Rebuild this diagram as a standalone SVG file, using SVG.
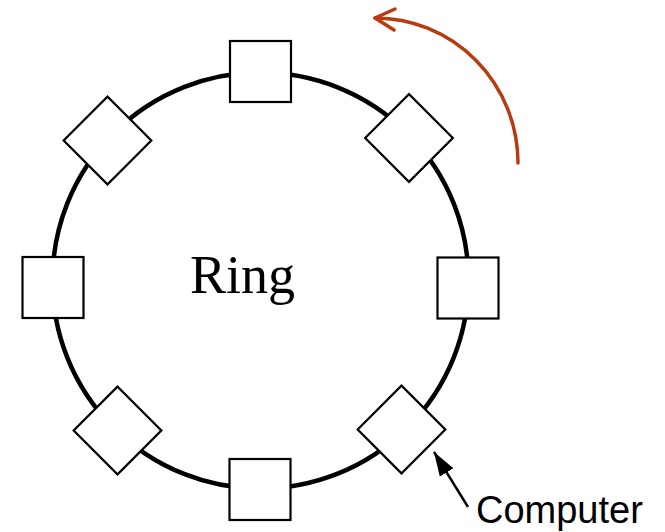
<svg xmlns="http://www.w3.org/2000/svg" width="665" height="532" viewBox="0 0 665 532">
  <style>
    .node { fill: #ffffff; stroke: #000000; stroke-width: 2.2; }
    .ring { fill: none; stroke: #000000; stroke-width: 4.5; }
    .red { fill: none; stroke: #B83A0E; stroke-width: 3.5; stroke-linecap: round; stroke-linejoin: round; }
    .lbl { font-family: "Liberation Sans", Arial, sans-serif; fill: #000; }
    .ringlbl { font-family: "Liberation Serif", "Times New Roman", serif; fill: #000; }
  </style>
  <defs>
    <marker id="blackArrow" markerUnits="userSpaceOnUse" markerWidth="26" markerHeight="18" refX="24" refY="8" orient="auto">
      <path d="M0,0 L24,8 L0,16 Z" fill="#000"/>
    </marker>
  </defs>
  <rect width="665" height="532" fill="#ffffff"/>
  <g id="ring">
    <circle class="ring" cx="260.5" cy="280.5" r="208"/>
    <text class="ringlbl" x="190" y="293" font-size="54">Ring</text>
  </g>
  <g id="connectors">
    <path class="red" d="M518,163 A143,145 0 0 0 375,18"/>
    <polyline class="red" points="395,9 375,18 394,30"/>
    <line x1="468" y1="507" x2="434" y2="452" stroke="#000" stroke-width="2.4" marker-end="url(#blackArrow)"/>
  </g>
  <g id="node-top"><rect class="node" x="230" y="41" width="61" height="61"/></g>
  <g id="node-top-right"><rect class="node" x="-31" y="-31" width="62" height="62" transform="translate(409,138) rotate(45)"/></g>
  <g id="node-right"><rect class="node" x="437.5" y="257.5" width="61" height="61"/></g>
  <g id="node-bottom-right"><rect class="node" x="-31" y="-31" width="62" height="62" transform="translate(401.5,429.5) rotate(45)"/></g>
  <g id="node-bottom"><rect class="node" x="229.5" y="459" width="61" height="61"/></g>
  <g id="node-bottom-left"><rect class="node" x="-31" y="-31" width="62" height="62" transform="translate(117.5,430.5) rotate(45)"/></g>
  <g id="node-left"><rect class="node" x="22.5" y="257" width="61" height="61"/></g>
  <g id="node-top-left"><rect class="node" x="-31" y="-31" width="62" height="62" transform="translate(107.5,140.5) rotate(45)"/></g>
  <g id="label-computer">
    <text class="lbl" x="476" y="523" font-size="38">Computer</text>
  </g>
</svg>
